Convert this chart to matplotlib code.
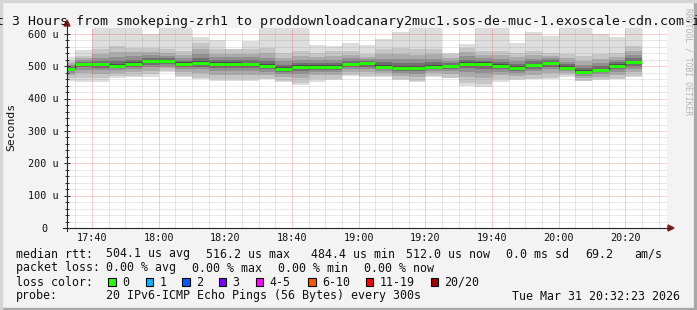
import matplotlib
matplotlib.use("Agg")
import matplotlib.pyplot as plt
import matplotlib.dates as mdates
from matplotlib.patches import Rectangle, Polygon
from matplotlib.lines import Line2D
from matplotlib.ticker import MultipleLocator
from matplotlib.transforms import blended_transform_factory, offset_copy
import numpy as np
import pandas as pd

W, H = 697, 310
MONO = "DejaVu Sans Mono"

# one value per 5 minute step, labelled by the end of the step
step_end = pd.date_range("2026-03-31 17:35", "2026-03-31 20:25", freq="5min")

median = [493, 508, 506, 502, 508, 515, 516, 508, 511, 508, 508, 507, 502, 493, 499,
          499, 499, 507, 509, 499, 496, 496, 499, 502, 508, 508, 502, 496, 504, 511,
          496, 484, 488, 502, 512]
smoke_hi = [528, 551, 630, 630, 630, 600, 630, 630, 592, 581, 553, 578, 630, 630, 630,
            566, 563, 573, 566, 585, 607, 630, 630, 540, 568, 630, 630, 573, 605, 594,
            630, 630, 599, 592, 630]
smoke_lo = [456, 451, 451, 463, 466, 468, 484, 468, 461, 456, 456, 456, 461, 453, 442,
            453, 458, 470, 466, 466, 458, 453, 466, 463, 439, 435, 453, 458, 461, 461,
            468, 458, 458, 461, 466]
band_hi = [517, 532, 553, 563, 558, 558, 553, 548, 573, 553, 553, 553, 558, 542, 548,
           542, 548, 548, 537, 553, 558, 553, 553, 537, 558, 548, 548, 542, 548, 542,
           537, 532, 537, 542, 563]
band_lo = [465, 465, 465, 470, 470, 475, 486, 470, 465, 460, 460, 460, 460, 455, 450,
           460, 460, 474, 470, 470, 460, 455, 470, 465, 450, 445, 460, 460, 460, 465,
           472, 455, 460, 460, 470]

y_ticks = [0, 100, 200, 300, 400, 500, 600]
y_labels = ["0", "100 u", "200 u", "300 u", "400 u", "500 u", "600 u"]
x_labels = ["17:40", "18:00", "18:20", "18:40", "19:00", "19:20", "19:40", "20:00", "20:20"]

loss_names = ["0", "1", "2", "3", "4-5", "6-10", "11-19", "20/20"]
loss_colors = ["#26ff00", "#00b8ff", "#0059ff", "#7e00ff", "#ff00ff", "#ff5500",
               "#ff0000", "#a10000"]

title = ("Last 3 Hours from smokeping-zrh1 to "
         "proddownloadcanary2muc1.sos-de-muc-1.exoscale-cdn.com-ipv6")


def fx(x):
    return x / W


def fy(y):
    return 1 - y / H


fig = plt.figure(figsize=(W / 100, H / 100), dpi=100, facecolor="#f3f3f3")

# frame of the canvas
fig.patches.append(Rectangle((0, 0), 1, fy(308), transform=fig.transFigure,
                             color="#a8a8a8", zorder=0))
fig.patches.append(Rectangle((fx(694), 0), 1, 1, transform=fig.transFigure,
                             color="#a8a8a8", zorder=0))
fig.patches.append(Rectangle((0, fy(2)), 1, 1, transform=fig.transFigure,
                             color="#d6d6d6", zorder=0))
fig.patches.append(Rectangle((0, 0), fx(2), 1, transform=fig.transFigure,
                             color="#d6d6d6", zorder=0))

ax = fig.add_axes([fx(67), fy(228), 600 / W, 200 / H])
ax.set_facecolor("white")

t_start = pd.Timestamp("2026-03-31 17:32:30")
t_stop = pd.Timestamp("2026-03-31 20:32:30")
ax.set_xlim(mdates.date2num(t_start), mdates.date2num(t_stop))
ax.set_ylim(0, 618.6)

edges = mdates.date2num(list(step_end - pd.Timedelta(minutes=5)) + [step_end[-1]])
med = np.array(median, dtype=float)


def stepped(vals):
    v = np.asarray(vals, dtype=float)
    return np.append(v, v[-1])


# smoke: outer envelope, then darker bands towards the median
ax.fill_between(edges, stepped(smoke_lo), stepped(smoke_hi), step="post",
                color="#dddddd", lw=0, zorder=1)
shades = [(1.0, "#c6c6c6"), (0.7, "#ababab"), (0.45, "#909090"),
          (0.25, "#707070"), (0.1, "#4c4c4c")]
for frac, col in shades:
    top = med + (np.array(band_hi) - med) * frac
    bot = med - (med - np.array(band_lo)) * frac
    ax.fill_between(edges, stepped(bot), stepped(top), step="post",
                    color=col, lw=0, zorder=1)

# grid
ax.xaxis.set_major_locator(mdates.MinuteLocator(byminute=[0, 20, 40]))
ax.xaxis.set_minor_locator(mdates.MinuteLocator(byminute=range(0, 60, 5)))
ax.yaxis.set_major_locator(MultipleLocator(100))
ax.yaxis.set_minor_locator(MultipleLocator(20))
ax.grid(which="minor", color="#8c8c8c", alpha=0.4, lw=0.72, ls=(0, (1, 1)))
ax.grid(which="major", color="#e03030", alpha=0.45, lw=0.72, ls=(0, (1, 1)))
ax.set_axisbelow(False)
for gl in ax.get_xgridlines() + ax.get_ygridlines():
    gl.set_zorder(2)
ax.tick_params(which="both", labelbottom=False, labelleft=False, direction="inout",
               color="#333333", width=0.7)
ax.tick_params(axis="x", which="both", length=0)
ax.tick_params(axis="y", which="major", length=4)
ax.tick_params(axis="y", which="minor", length=2.5)
for s in ax.spines.values():
    s.set_visible(False)

# median line
ax.vlines(edges[1:-1], med[:-1], med[1:], color="#333333", lw=0.8, zorder=3)
ax.hlines(med, edges[:-1], edges[1:], color="#26ff00", lw=2.1, zorder=4)

# axes lines with arrows
fig.lines.append(Line2D([fx(67), fx(67)], [fy(231), fy(24)], transform=fig.transFigure,
                        color="#222222", lw=0.8))
fig.lines.append(Line2D([fx(63), fx(670)], [fy(228), fy(228)], transform=fig.transFigure,
                        color="#222222", lw=0.8))
fig.patches.append(Polygon([(fx(64), fy(26)), (fx(70), fy(26)), (fx(67), fy(20))],
                           closed=True, transform=fig.transFigure, color="#8b1a1a"))
fig.patches.append(Polygon([(fx(668), fy(225)), (fx(668), fy(231)), (fx(674), fy(228))],
                           closed=True, transform=fig.transFigure, color="#8b1a1a"))

# tick labels
ytr = offset_copy(blended_transform_factory(fig.transFigure, ax.transData),
                  fig=fig, y=-3.6, units="dots")
for v, lab in zip(y_ticks, y_labels):
    xr = 58.5 if lab != "0" else 47
    ax.text(fx(xr), v, lab, transform=ytr, ha="right", va="baseline",
            family=MONO, fontsize=7.3, color="#111111")

xtr = blended_transform_factory(ax.transData, fig.transFigure)
for lab in x_labels:
    t = mdates.date2num(pd.Timestamp("2026-03-31 " + lab))
    ax.text(t, fy(240.7), lab, transform=xtr, ha="center", va="baseline",
            family=MONO, fontsize=7.3, color="#111111")

fig.text(fx(348.5), fy(24.5), title, ha="center", va="baseline", family=MONO,
         fontsize=9.55, color="#111111")
fig.text(fx(11.5), fy(127), "Seconds", rotation=90, ha="center", va="center",
         family=MONO, fontsize=8.2, color="#111111")
fig.text(fx(688), fy(62), "RRDTOOL / TOBI OETIKER", rotation=270, ha="center",
         va="center", family=MONO, fontsize=5.8, color="#b4b4b4")

# legend
leg = dict(family=MONO, fontsize=8.35, color="#111111", va="baseline", ha="left")
line1 = [("median rtt:", 16), ("504.1 us avg", 106.5), ("516.2 us max", 206.5),
         ("484.4 us min", 311), ("512.0 us now", 406), ("0.0 ms sd", 506),
         ("69.2", 585), ("am/s", 634)]
line2 = [("packet loss:", 16), ("0.00 % avg", 106.5), ("0.00 % max", 192.5),
         ("0.00 % min", 278.5), ("0.00 % now", 364.3)]
for txt, x in line1:
    fig.text(fx(x), fy(257.5), txt, **leg)
for txt, x in line2:
    fig.text(fx(x), fy(271.5), txt, **leg)
fig.text(fx(16), fy(285.5), "loss color:", **leg)
box_x = [108.3, 145.7, 182.3, 219, 256, 308.3, 365.7, 430.7]
for bx, name, col in zip(box_x, loss_names, loss_colors):
    fig.patches.append(Rectangle((fx(bx), fy(285.5)), 7.3 / W, 7.3 / H,
                                 transform=fig.transFigure, facecolor=col,
                                 edgecolor="black", lw=0.8))
    fig.text(fx(bx + 13.7), fy(285.5), name, **leg)
fig.text(fx(16), fy(299.5), "probe:", **leg)
fig.text(fx(106.5), fy(299.5), "20 IPv6-ICMP Echo Pings (56 Bytes) every 300s", **leg)
fig.text(fx(680.5), fy(299.5), "Tue Mar 31 20:32:23 2026",
         **{**leg, "ha": "right"})

fig.savefig("out.png", dpi=100, facecolor=fig.get_facecolor())
